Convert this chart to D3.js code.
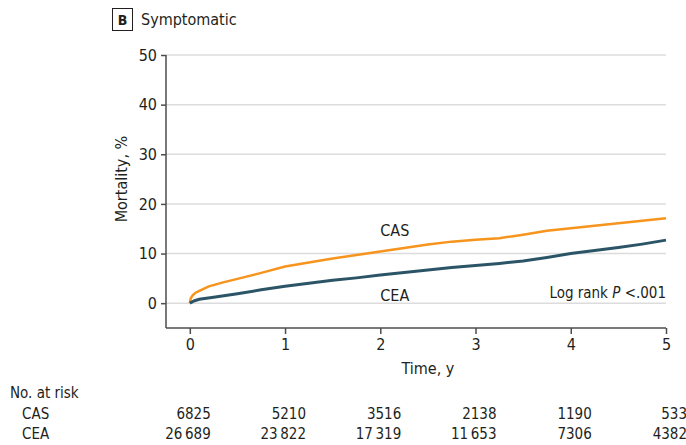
<!DOCTYPE html>
<html>
<head>
<meta charset="utf-8">
<script src="https://cdn.jsdelivr.net/npm/d3@7"></script>
<style>
body { margin: 0; background: #fff; }
text { font-family: "DejaVu Sans Condensed", "Liberation Sans Narrow", sans-serif; fill: #231f20; }
</style>
</head>
<body>
<div id="chart"></div>
<script>
var width = 686, height = 445;

// Kaplan-Meier estimates (time in years, mortality %)
var casTime = [0, 0.01, 0.03, 0.06, 0.1, 0.2, 0.35, 0.5, 0.75, 1, 1.25, 1.5, 1.75, 2, 2.25, 2.5, 2.75, 3, 3.25, 3.5, 3.75, 4, 4.25, 4.5, 4.75, 5];
var casMort = [0, 1.0, 1.6, 2.1, 2.5, 3.4, 4.2, 4.9, 6.1, 7.4, 8.2, 9.0, 9.7, 10.4, 11.1, 11.8, 12.4, 12.8, 13.1, 13.8, 14.6, 15.1, 15.6, 16.1, 16.6, 17.1];
var ceaTime = [0, 0.05, 0.1, 0.25, 0.5, 0.75, 1, 1.25, 1.5, 1.75, 2, 2.25, 2.5, 2.75, 3, 3.25, 3.5, 3.75, 4, 4.25, 4.5, 4.75, 5];
var ceaMort = [0, 0.5, 0.8, 1.2, 1.9, 2.7, 3.4, 4.0, 4.6, 5.1, 5.7, 6.2, 6.7, 7.2, 7.6, 8.0, 8.5, 9.2, 10.0, 10.6, 11.2, 11.9, 12.7];

var xTicks = [0, 1, 2, 3, 4, 5];
var yTicks = [0, 10, 20, 30, 40, 50];
var riskGroups = ["CAS", "CEA"];
var casRisk = ["6825", "5210", "3516", "2138", "1190", "533"];
var ceaRisk = ["26\u2009689", "23\u2009822", "17\u2009319", "11\u2009653", "7306", "4382"];

var svg = d3.select("#chart").append("svg")
    .attr("width", width)
    .attr("height", height);

var x = d3.scaleLinear().domain([-0.25, 5]).range([166, 666]);
var y = d3.scaleLinear().domain([-5, 50]).range([328, 55]);

// panel title
svg.append("rect")
    .attr("x", 112.5).attr("y", 8.5)
    .attr("width", 20).attr("height", 22)
    .attr("fill", "none").attr("stroke", "#231f20").attr("stroke-width", 1);
svg.append("text").attr("x", 122.5).attr("y", 25)
    .attr("text-anchor", "middle")
    .style("font-size", "14px").style("font-weight", "bold")
    .text("B");
svg.append("text").attr("x", 141).attr("y", 25)
    .style("font-size", "16px")
    .text("Symptomatic");

// grid lines
svg.selectAll(".grid")
    .data(yTicks)
    .enter().append("line")
    .attr("class", "grid")
    .attr("x1", x(-0.25)).attr("x2", x(5))
    .attr("y1", function (d) { return y(d); })
    .attr("y2", function (d) { return y(d); })
    .attr("stroke", "#dcdcdc").attr("stroke-width", 1.5);

// y axis
var yAxis = svg.append("g")
    .attr("transform", "translate(" + x(-0.25) + ",0)")
    .call(d3.axisLeft(y).tickValues(yTicks).tickFormat(d3.format("d")).tickSize(5).tickPadding(4));
yAxis.select(".domain").attr("d", "M0," + y(50) + "V" + y(-5));

// x axis
var xAxis = svg.append("g")
    .attr("transform", "translate(0," + y(-5) + ")")
    .call(d3.axisBottom(x).tickValues(xTicks).tickFormat(d3.format("d")).tickSize(6).tickPadding(5));
xAxis.select(".domain").attr("d", "M" + x(-0.25) + ",0H" + x(5));

svg.selectAll(".tick text").style("font-size", "16px").attr("fill", "#231f20");
svg.selectAll(".domain, .tick line").attr("stroke", "#4d4d4d").attr("stroke-width", 1.5);

svg.append("text")
    .attr("transform", "translate(127," + y(25) + ") rotate(-90)")
    .attr("text-anchor", "middle")
    .style("font-size", "16px")
    .text("Mortality, %");

svg.append("text")
    .attr("x", x(2.5)).attr("y", 374)
    .attr("text-anchor", "middle")
    .style("font-size", "16px")
    .text("Time, y");

// curves
var line = d3.line()
    .x(function (d) { return x(d[0]); })
    .y(function (d) { return y(d[1]); });

svg.append("path")
    .datum(d3.zip(casTime, casMort))
    .attr("d", line)
    .attr("fill", "none")
    .attr("stroke", "#f7941d")
    .attr("stroke-width", 2.5);

svg.append("path")
    .datum(d3.zip(ceaTime, ceaMort))
    .attr("d", line)
    .attr("fill", "none")
    .attr("stroke", "#2b5566")
    .attr("stroke-width", 3);

svg.append("text").attr("x", x(2.0)).attr("y", 236)
    .style("font-size", "16px").text("CAS");
svg.append("text").attr("x", x(2.0)).attr("y", 301)
    .style("font-size", "16px").text("CEA");

var pText = svg.append("text").attr("x", x(5)).attr("y", 298)
    .attr("text-anchor", "end")
    .style("font-size", "15px");
pText.append("tspan").text("Log rank ");
pText.append("tspan").style("font-style", "italic").text("P");
pText.append("tspan").text(" <.001");

// number at risk table
svg.append("text").attr("x", 10).attr("y", 398)
    .style("font-size", "15px").text("No. at risk");

var rows = [casRisk, ceaRisk];
riskGroups.forEach(function (g, i) {
    var ry = 419 + i * 20;
    svg.append("text").attr("x", 22).attr("y", ry)
        .style("font-size", "15px").text(g);
    svg.selectAll(".risk" + i)
        .data(rows[i])
        .enter().append("text")
        .attr("class", "risk" + i)
        .attr("x", function (d, j) { return x(xTicks[j]) + 21; })
        .attr("y", ry)
        .attr("text-anchor", "end")
        .style("font-size", "15px")
        .text(function (d) { return d; });
});
</script>
</body>
</html>
